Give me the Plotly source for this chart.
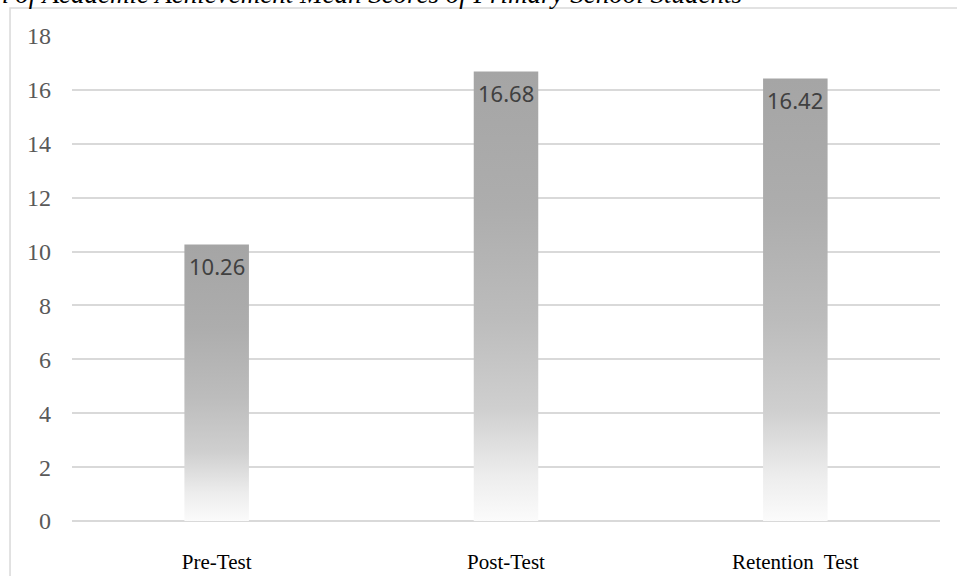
import plotly.graph_objects as go

categories = ["Pre-Test", "Post-Test", "Retention\u00a0 Test"]
means = [10.26, 16.68, 16.42]
value_labels = ["10.26", "16.68", "16.42"]
y_ticks = [0, 2, 4, 6, 8, 10, 12, 14, 16, 18]
title_text = "Comparison of Academic Achievement Mean Scores of Primary School Students"

bar_half = 0.1115
grad = [[0.0, "#fbfbfb"], [0.1, "#ededed"], [0.25, "#cfcfcf"], [0.45, "#bcbcbc"],
        [0.7, "#adadad"], [1.0, "#a5a5a5"]]

fig = go.Figure()
for i, v in enumerate(means):
    xs = [i - bar_half, i - bar_half, i + bar_half, i + bar_half, i - bar_half]
    ys = [0, v, v, 0, 0]
    fig.add_trace(go.Scatter(
        x=xs, y=ys, mode="lines", fill="toself",
        line=dict(width=0, color="rgba(0,0,0,0)"),
        fillgradient=dict(type="vertical", colorscale=grad),
        hoverinfo="skip", showlegend=False,
    ))
    fig.add_annotation(
        x=i, y=v, xref="x", yref="y", text=value_labels[i],
        showarrow=False, yanchor="top", yshift=-4,
        font=dict(family="Noto Sans, Liberation Sans, sans-serif", size=22, color="#404040"),
    )

fig.add_annotation(
    x=0.774, y=1, xref="paper", yref="paper", xanchor="right", yanchor="middle",
    yshift=42, text=title_text, showarrow=False,
    font=dict(family="Liberation Serif, serif", size=27, color="#000000", style="italic"),
)

fig.add_shape(
    type="rect", xref="paper", yref="paper",
    x0=-0.0714, x1=1.05, y0=-0.2, y1=1.0577,
    line=dict(color="#d9d9d9", width=1.5), fillcolor="rgba(0,0,0,0)", layer="below",
)

fig.update_layout(
    width=957, height=576,
    margin=dict(l=72, r=17, t=36, b=55, autoexpand=False),
    paper_bgcolor="white", plot_bgcolor="white",
    xaxis=dict(
        range=[-0.5, 2.5], tickvals=list(range(len(categories))), ticktext=categories,
        showgrid=False, zeroline=False, showline=False, ticks="",
        tickfont=dict(family="Liberation Serif, serif", size=21, color="#000000"),
        ticklabelstandoff=26, fixedrange=True, automargin=False,
    ),
    yaxis=dict(
        range=[0, 18], tickvals=y_ticks, showgrid=True, gridcolor="#d9d9d9", gridwidth=1.5,
        zeroline=True, zerolinecolor="#d9d9d9", zerolinewidth=1.5, showline=False, ticks="",
        tickfont=dict(family="Liberation Serif, serif", size=24, color="#595959"),
        ticklabelstandoff=20, fixedrange=True, automargin=False,
    ),
)

fig.write_html("out.html")
